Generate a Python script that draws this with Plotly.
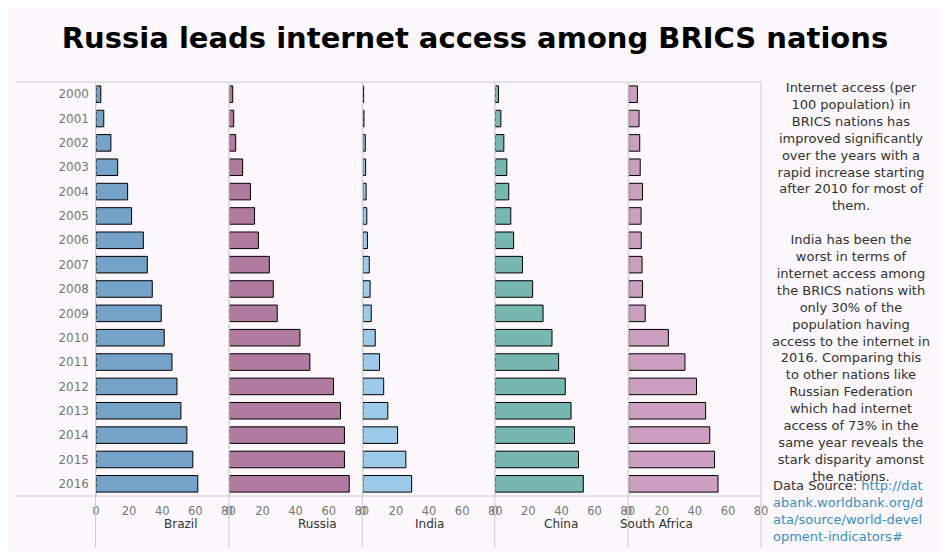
import plotly.graph_objects as go

# the page puts the figure 8px in from the window corner
OFF = 8
W, H = 949 - 2 * OFF, 559 - 2 * OFF

years = [str(y) for y in range(2000, 2017)]
countries = ["Brazil", "Russia", "India", "China", "South Africa"]
brazil = [2.9, 4.7, 9.0, 13.1, 19.1, 21.5, 28.6, 31.0, 34.0, 39.4, 41.2, 45.9, 48.9, 51.3, 54.9, 58.5, 61.5]
russia = [2.0, 2.6, 3.8, 8.0, 12.7, 15.2, 17.5, 24.1, 26.5, 28.9, 42.6, 48.6, 62.9, 67.1, 69.5, 69.5, 72.4]
india = [0.5, 0.7, 1.5, 1.7, 2.0, 2.4, 2.8, 3.9, 4.4, 5.1, 7.5, 10.1, 12.6, 15.1, 21.0, 26.0, 29.5]
china = [2.0, 3.4, 5.2, 7.0, 8.2, 9.4, 11.1, 16.5, 22.6, 28.9, 34.3, 38.3, 42.3, 45.8, 47.9, 50.3, 53.2]
south_africa = [5.3, 6.3, 6.7, 7.0, 8.4, 7.5, 7.6, 8.1, 8.4, 10.0, 24.0, 34.0, 41.0, 46.5, 49.0, 51.9, 54.0]
series = [brazil, russia, india, china, south_africa]
colors = ["#74a2c8", "#b07aa1", "#9ecae9", "#76b7b2", "#cc9ec1"]

panel_left = [93, 228, 363, 497, 632]
panel_w = 134
plot_top, plot_bottom = 82, 496
grid = "#cccccc"


def px(x):
    return (x - OFF) / W


def py(y):
    return 1 - (y - OFF) / H


fig = go.Figure()
layout = {}
for i, (name, vals, col) in enumerate(zip(countries, series, colors)):
    ax = "" if i == 0 else str(i + 1)
    fig.add_trace(go.Bar(
        x=vals, y=years, orientation="h", name=name,
        xaxis="x" + ax, yaxis="y",
        marker={"color": col, "line": {"color": "#000000", "width": 1}},
        hovertemplate=f"{name} %{{y}}: %{{x:.1f}}<extra></extra>",
    ))
    layout["xaxis" + ax] = {
        "domain": [px(panel_left[i]), px(panel_left[i] + panel_w)],
        "range": [0, 80], "tickvals": [0, 20, 40, 60, 80],
        "anchor": "y", "showgrid": False, "zeroline": False,
        "tickfont": {"size": 11.5, "color": "#777777"},
        "ticks": "", "ticklabelstandoff": 6,
    }
    fig.add_shape(type="line", xref="x" + ax, yref="paper", x0=0, x1=0,
                  y0=py(plot_bottom), y1=py(plot_top),
                  line={"color": "#bbbbbb", "width": 1, "dash": "dot"})
    fig.add_annotation(x=px(panel_left[i] + panel_w / 2), y=py(533), xref="paper", yref="paper",
                       text=name, showarrow=False, font={"size": 12, "color": "#333333"})
    sep = panel_left[i] - 0.5
    fig.add_shape(type="line", xref="paper", yref="paper", x0=px(sep), x1=px(sep),
                  y0=py(548), y1=py(plot_top), line={"color": grid, "width": 1})

fig.add_shape(type="line", xref="paper", yref="paper", x0=px(766), x1=px(766),
              y0=py(548), y1=py(plot_top), line={"color": grid, "width": 1})
for yy in (plot_top, plot_bottom):
    fig.add_shape(type="line", xref="paper", yref="paper", x0=px(12), x1=px(766),
                  y0=py(yy), y1=py(yy), line={"color": grid, "width": 1})

story = ("Internet access (per<br>100 population) in<br>BRICS nations has<br>improved significantly<br>"
         "over the years with a<br>rapid increase starting<br>after 2010 for most of<br>them.<br><br>"
         "India has been the<br>worst in terms of<br>internet access among<br>the BRICS nations with<br>"
         "only 30% of the<br>population having<br>access to the internet in<br>2016. Comparing this<br>"
         "to other nations like<br>Russian Federation<br>which had internet<br>access of 73% in the<br>"
         "same year reveals the<br>stark disparity amonst<br>the nations.")
fig.add_annotation(x=px(857), y=py(78), xref="paper", yref="paper", text=story, showarrow=False,
                   align="center", xanchor="center", yanchor="top",
                   font={"size": 13, "color": "#333333"})
url = "http://databank.worldbank.org/data/source/world-development-indicators#"
link = (f'Data Source: <a href="{url}" style="color:#3a8fc4">http://dat</a><br>'
        f'<a href="{url}" style="color:#3a8fc4">abank.worldbank.org/d</a><br>'
        f'<a href="{url}" style="color:#3a8fc4">ata/source/world-devel</a><br>'
        f'<a href="{url}" style="color:#3a8fc4">opment-indicators#</a>')
fig.add_annotation(x=px(776), y=py(476), xref="paper", yref="paper", text=link, showarrow=False,
                   align="left", xanchor="left", yanchor="top",
                   font={"size": 13, "color": "#333333"})

fig.update_layout(
    width=W, height=H,
    margin={"l": 0, "r": 0, "t": 0, "b": 0},
    paper_bgcolor="#fbf7fb", plot_bgcolor="#fbf7fb",
    font={"family": "DejaVu Sans, Verdana, sans-serif", "color": "#333333"},
    title={"text": "<b>Russia leads internet access among BRICS nations</b>",
           "x": px(475), "xanchor": "center", "y": py(38), "yanchor": "middle",
           "font": {"size": 29, "color": "#000000"}},
    showlegend=False, bargap=0.32,
    yaxis={"domain": [py(plot_bottom), py(plot_top)], "type": "category",
           "autorange": "reversed", "showgrid": False, "ticks": "",
           "tickfont": {"size": 12, "color": "#777777"}, "ticklabelstandoff": 6},
    **layout,
)

fig.write_html("out.html")
